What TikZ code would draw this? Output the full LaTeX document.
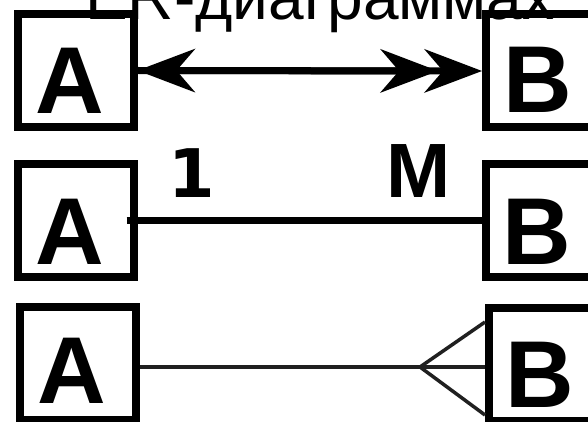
\documentclass[tikz,border=0pt]{standalone}
\usepackage{fontspec}
\setmainfont{Liberation Sans}
\newfontfamily\dejavu{DejaVu Sans}
\usetikzlibrary{arrows.meta}
\tikzset{
  entity/.style={draw=black, line width=8pt, rectangle, minimum width=116pt, minimum height=113pt, inner sep=0pt, fill=none},
  letter/.style={inner sep=0pt, anchor=base, font=\fontsize{95}{95}\selectfont\bfseries},
  card/.style={inner sep=0pt, anchor=base},
  head/.style={Stealth[length=58pt, width=44pt, inset=19pt, line width=0pt]},
  thickrel/.style={line width=7pt, line cap=butt},
  thinrel/.style={line width=3.5pt, draw={rgb,255:red,32;green,32;blue,32}, line cap=butt}
}
\begin{document}
\begin{tikzpicture}[x=1pt, y=-1pt]
\useasboundingbox (0,0) rectangle (588,422);
\clip (0,0) rectangle (588,422);
% title
\node[inner sep=0pt, anchor=base west, font=\fontsize{64}{64}\selectfont] (title) at (85,20) {ER-диаграммах};
% row 1
\node[entity] (A1) at (75.5,70.5) {};
\node[entity] (B1) at (544,71) {};
\node[letter] (tA1) at (69.5,114) {A};
\node[letter] (tB1) at (537.5,113) {B};
\coordinate (h2) at ([xshift=-44pt]B1.west);
\draw[thickrel, {Stealth[length=58pt, width=44pt, inset=19pt, line width=0pt]}-{Stealth[length=58pt, width=44pt, inset=19pt, line width=0pt]}] (A1.east) -- (B1.west);
\draw[thickrel, -{Stealth[length=58pt, width=44pt, inset=19pt, line width=0pt]}] (A1.east) -- (h2);
% row 2
\node[entity] (A2) at (75.5,220.5) {};
\node[entity] (B2) at (544,220.5) {};
\node[letter] (tA2) at (69.5,264) {A};
\node[letter] (tB2) at (537,264) {B};
\draw[thickrel, shorten <=-11pt] (A2.east) -- (B2.west);
\node[card, font=\dejavu\fontsize{67}{67}\selectfont\bfseries] (one) at (192,197) {1};
\node[card, font=\fontsize{77}{77}\selectfont\bfseries] (many) at (419,197) {M};
% row 3
\node[entity] (A3) at (78,363.5) {};
\node[entity] (B3) at (547,364.5) {};
\node[letter] (tA3) at (72,403) {A};
\node[letter] (tB3) at (539.5,407) {B};
\coordinate (cf) at (420,367);
\coordinate (cfm) at (B3.west |- cf);
\draw[thinrel] (A3.east |- cf) -- (cfm);
\draw[thinrel] ([yshift=45pt]cfm) -- (cf) -- ([yshift=-48pt]cfm);
\end{tikzpicture}
\end{document}
